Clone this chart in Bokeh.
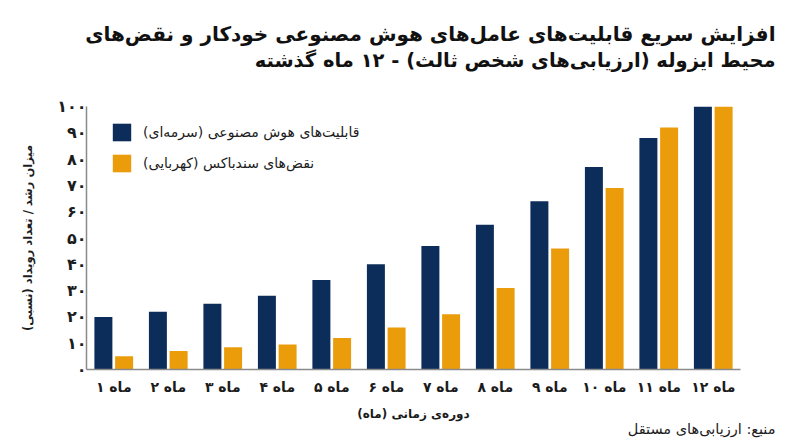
from bokeh.plotting import figure
from bokeh.models import (
    ColumnDataSource,
    FactorRange,
    Range1d,
    FixedTicker,
    Legend,
    LegendItem,
    Title,
)
from bokeh.transform import dodge
from bokeh.embed import file_html
from bokeh.resources import INLINE

# --- data ---
months = ["ماه ۱", "ماه ۲", "ماه ۳", "ماه ۴", "ماه ۵", "ماه ۶",
          "ماه ۷", "ماه ۸", "ماه ۹", "ماه ۱۰", "ماه ۱۱", "ماه ۱۲"]
ai_capability = [20, 22, 25, 28, 34, 40, 47, 55, 64, 77, 88, 100]
sandbox_breaches = [5, 7, 8.5, 9.5, 12, 16, 21, 31, 46, 69, 92, 100]

y_ticks = [0, 10, 20, 30, 40, 50, 60, 70, 80, 90, 100]
y_tick_labels = ["۰", "۱۰", "۲۰", "۳۰", "۴۰", "۵۰", "۶۰", "۷۰", "۸۰", "۹۰", "۱۰۰"]

title_lines = [
    "افزایش سریع قابلیت‌های عامل‌های هوش مصنوعی خودکار و نقض‌های",
    "محیط ایزوله (ارزیابی‌های شخص ثالث) - ۱۲ ماه گذشته",
]
series_labels = [
    "قابلیت‌های هوش مصنوعی (سرمه‌ای)",
    "نقض‌های سندباکس (کهربایی)",
]
y_label = "میزان رشد / تعداد رویداد (نسبی)"
x_label = "دوره‌ی زمانی (ماه)"
source_note = "منبع: ارزیابی‌های مستقل"

COLORS = {
    "navy": "#0c2c5a",
    "amber": "#eb9c0b",
    "axis": "#8a8a8a",
    "text": "#1c1c1c",
    "title": "#111111",
}
FONT = "DejaVu Sans"
RLM = "\u200f"  # keeps a trailing parenthesis inside the right-to-left run


def rtl(s):
    return s + RLM if s.endswith(")") else s


src = ColumnDataSource(data=dict(month=months, ai=ai_capability, sb=sandbox_breaches))

p = figure(
    width=800,
    height=447,
    x_range=FactorRange(factors=months, range_padding=0),
    y_range=Range1d(0, 100),
    title=None,
    output_backend="svg",
    toolbar_location=None,
    min_border_left=86,
    min_border_right=60,
    min_border_top=106,
    min_border_bottom=78,
    outline_line_color=None,
    background_fill_color="white",
    border_fill_color="white",
)

r_ai = p.vbar(x=dodge("month", -0.19, range=p.x_range), top="ai", width=0.33,
              source=src, fill_color=COLORS["navy"], line_color=None)
r_sb = p.vbar(x=dodge("month", 0.19, range=p.x_range), top="sb", width=0.33,
              source=src, fill_color=COLORS["amber"], line_color=None)

p.xgrid.grid_line_color = None
p.ygrid.grid_line_color = None

for ax in (p.xaxis, p.yaxis):
    ax.axis_line_color = COLORS["axis"]
    ax.axis_line_width = 1.5
    ax.major_tick_line_color = None
    ax.minor_tick_line_color = None
    ax.major_tick_out = 0
    ax.major_label_text_font = FONT
    ax.major_label_text_font_style = "bold"
    ax.major_label_text_color = COLORS["text"]
    ax.axis_label_text_font = FONT
    ax.axis_label_text_font_style = "bold"
    ax.axis_label_text_font_size = "12px"
    ax.axis_label_text_color = COLORS["text"]

p.yaxis.ticker = FixedTicker(ticks=y_ticks)
p.yaxis.major_label_overrides = dict(zip(y_ticks, y_tick_labels))
p.yaxis.major_label_text_font_size = "16px"
p.yaxis.major_label_standoff = 0
p.yaxis.axis_label = rtl(y_label)
p.yaxis.axis_label_text_font_size = "11.5px"
p.yaxis.axis_label_standoff = 19

p.xaxis.major_label_text_font_size = "14px"
p.xaxis.major_label_standoff = 9
p.xaxis.axis_label = rtl(x_label)
p.xaxis.axis_label_standoff = 9

legend = Legend(
    items=[LegendItem(label=rtl(series_labels[0]), renderers=[r_ai]),
           LegendItem(label=rtl(series_labels[1]), renderers=[r_sb])],
    location=(24, 195),
    padding=0,
    margin=0,
    spacing=9,
    glyph_width=23,
    glyph_height=22,
    label_height=22,
    label_standoff=10,
    label_text_font=FONT,
    label_text_font_size="14px",
    label_text_color=COLORS["text"],
    border_line_color=None,
    background_fill_alpha=0,
)
p.add_layout(legend)

# title block: line 2 keeps a gap to the frame, line 1 is pulled back down onto it
for text, size, standoff in ((title_lines[1], "19.5px", 69), (title_lines[0], "20px", -66)):
    p.add_layout(Title(text=text, align="right", offset=-35, standoff=standoff,
                       text_font=FONT, text_font_style="bold", text_font_size=size,
                       text_color=COLORS["title"]), "above")

p.add_layout(Title(text=source_note, align="right", offset=-35, standoff=-10,
                   text_font=FONT, text_font_style="normal", text_font_size="14.5px",
                   text_color=COLORS["text"]), "below")

open("out.html", "w").write(file_html(p, INLINE))
